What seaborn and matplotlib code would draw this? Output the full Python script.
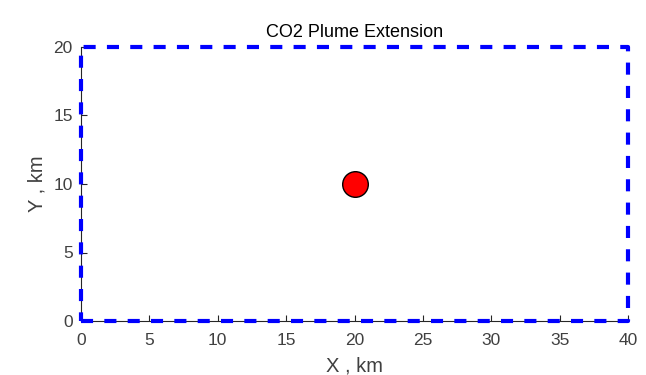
import matplotlib
matplotlib.use("Agg")
import matplotlib.pyplot as plt
import seaborn as sns
import pandas as pd

# Data
boundary_x = [0, 40, 40, 0, 0]
boundary_y = [0, 0, 20, 20, 0]
well_x = [20]
well_y = [10]
x_ticks = [0, 5, 10, 15, 20, 25, 30, 35, 40]
y_ticks = [0, 5, 10, 15, 20]

sns.set_theme(style="ticks")
plt.rcParams['font.family'] = ['Liberation Sans', 'DejaVu Sans']

fig = plt.figure(figsize=(6.46, 3.75), dpi=100)
ax = fig.add_axes([81/646, 1-321/375, (628-81)/646, (321-47)/375])

bdf = pd.DataFrame({"x": boundary_x, "y": boundary_y})
sns.lineplot(data=bdf, x="x", y="y", sort=False, estimator=None, ax=ax,
             color="#0000ff", linewidth=3, linestyle=(0, (2.9, 2.7)),
             clip_on=False, zorder=3)
wdf = pd.DataFrame({"x": well_x, "y": well_y})
sns.scatterplot(data=wdf, x="x", y="y", ax=ax, s=340, color="#ff0000",
                edgecolor="black", linewidth=1.0, zorder=4)

ax.set_xlim(0, 40)
ax.set_ylim(0, 20)
ax.set_xticks(x_ticks)
ax.set_yticks(y_ticks)
for s in ["top", "right"]:
    ax.spines[s].set_visible(False)
for s in ["left", "bottom"]:
    ax.spines[s].set_color("#262626")
    ax.spines[s].set_linewidth(0.8)
ax.tick_params(direction="in", length=4, width=0.8, colors="#262626",
               labelcolor="#404040", labelsize=12.5)
ax.tick_params(axis="x", pad=8.5)
ax.tick_params(axis="y", pad=6)
ax.set_xlabel("X , km", fontsize=14.5, color="#404040", labelpad=6)
ax.set_ylabel("Y , km", fontsize=14.5, color="#404040", labelpad=5)
ax.set_title("CO2 Plume Extension", fontsize=13, color="#000000", pad=7)

fig.savefig("out.png", dpi=100)
